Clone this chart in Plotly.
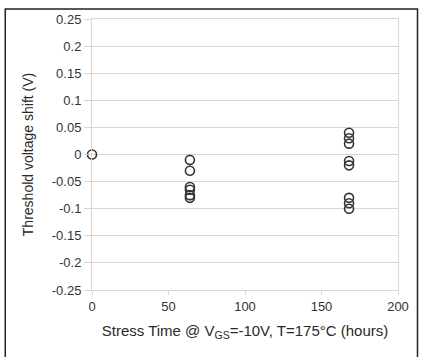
import plotly.graph_objects as go

# Data
time_0 = [0]
shift_0 = [0.0]
time_64 = [64, 64, 64, 64, 64, 64]
shift_64 = [-0.01, -0.03, -0.06, -0.065, -0.075, -0.08]
time_168 = [168, 168, 168, 168, 168, 168, 168, 168]
shift_168 = [0.04, 0.03, 0.02, -0.012, -0.02, -0.08, -0.09, -0.10]
y_ticks = [-0.25, -0.2, -0.15, -0.1, -0.05, 0, 0.05, 0.1, 0.15, 0.2, 0.25]
y_labels = ["-0.25", "-0.2", "-0.15", "-0.1", "-0.05", "0", "0.05", "0.1", "0.15", "0.2", "0.25"]
x_ticks = [0, 50, 100, 150, 200]

xs = time_0 + time_64 + time_168
ys = shift_0 + shift_64 + shift_168

W, H = 421, 357
L, R, T, B = 92, 15, 18, 67
pw, ph = W - L - R, H - T - B

fig = go.Figure()
fig.add_trace(go.Scatter(
    x=xs, y=ys, mode="markers",
    marker=dict(symbol="circle-open", size=9, color="#333333", line=dict(width=1.6, color="#333333")),
    showlegend=False, cliponaxis=False,
))

font_fam = "Liberation Sans, Arial, sans-serif"
grid = "#ddd5d2"
txt = "#333333"

fig.update_layout(
    width=W, height=H,
    margin=dict(l=L, r=R, t=T, b=B),
    paper_bgcolor="white", plot_bgcolor="white",
    font=dict(family=font_fam, size=12, color=txt),
    xaxis=dict(
        range=[0, 200], tickvals=x_ticks,
        showgrid=False, zeroline=False,
        showline=True, linecolor=grid, linewidth=1, mirror=True,
        ticks="outside", ticklen=4, tickcolor=grid,
        tickfont=dict(size=13, color=txt),
        title=dict(text="Stress Time @ V<sub>GS</sub>=-10V, T=175°C (hours)",
                   font=dict(size=15, color="#2a2a2a"), standoff=12),
    ),
    yaxis=dict(
        range=[-0.25, 0.25],
        tickvals=y_ticks, ticktext=y_labels,
        showgrid=True, gridcolor=grid, gridwidth=1, zeroline=False,
        showline=True, linecolor=grid, linewidth=1, mirror=True,
        ticks="outside", ticklen=7, tickcolor=grid,
        tickfont=dict(size=13, color=txt),
        title=dict(text="Threshold voltage shift (V)",
                   font=dict(size=14, color="#2a2a2a"), standoff=14),
    ),
    shapes=[dict(
        type="rect", xref="paper", yref="paper",
        x0=(3 - L) / pw, x1=(W + 5 - L) / pw,
        y0=(H - B - (H + 5)) / ph, y1=(H - B - 8) / ph,
        line=dict(color="#222222", width=1.5), fillcolor="rgba(0,0,0,0)", layer="below",
    )],
)

fig.write_html("out.html")
